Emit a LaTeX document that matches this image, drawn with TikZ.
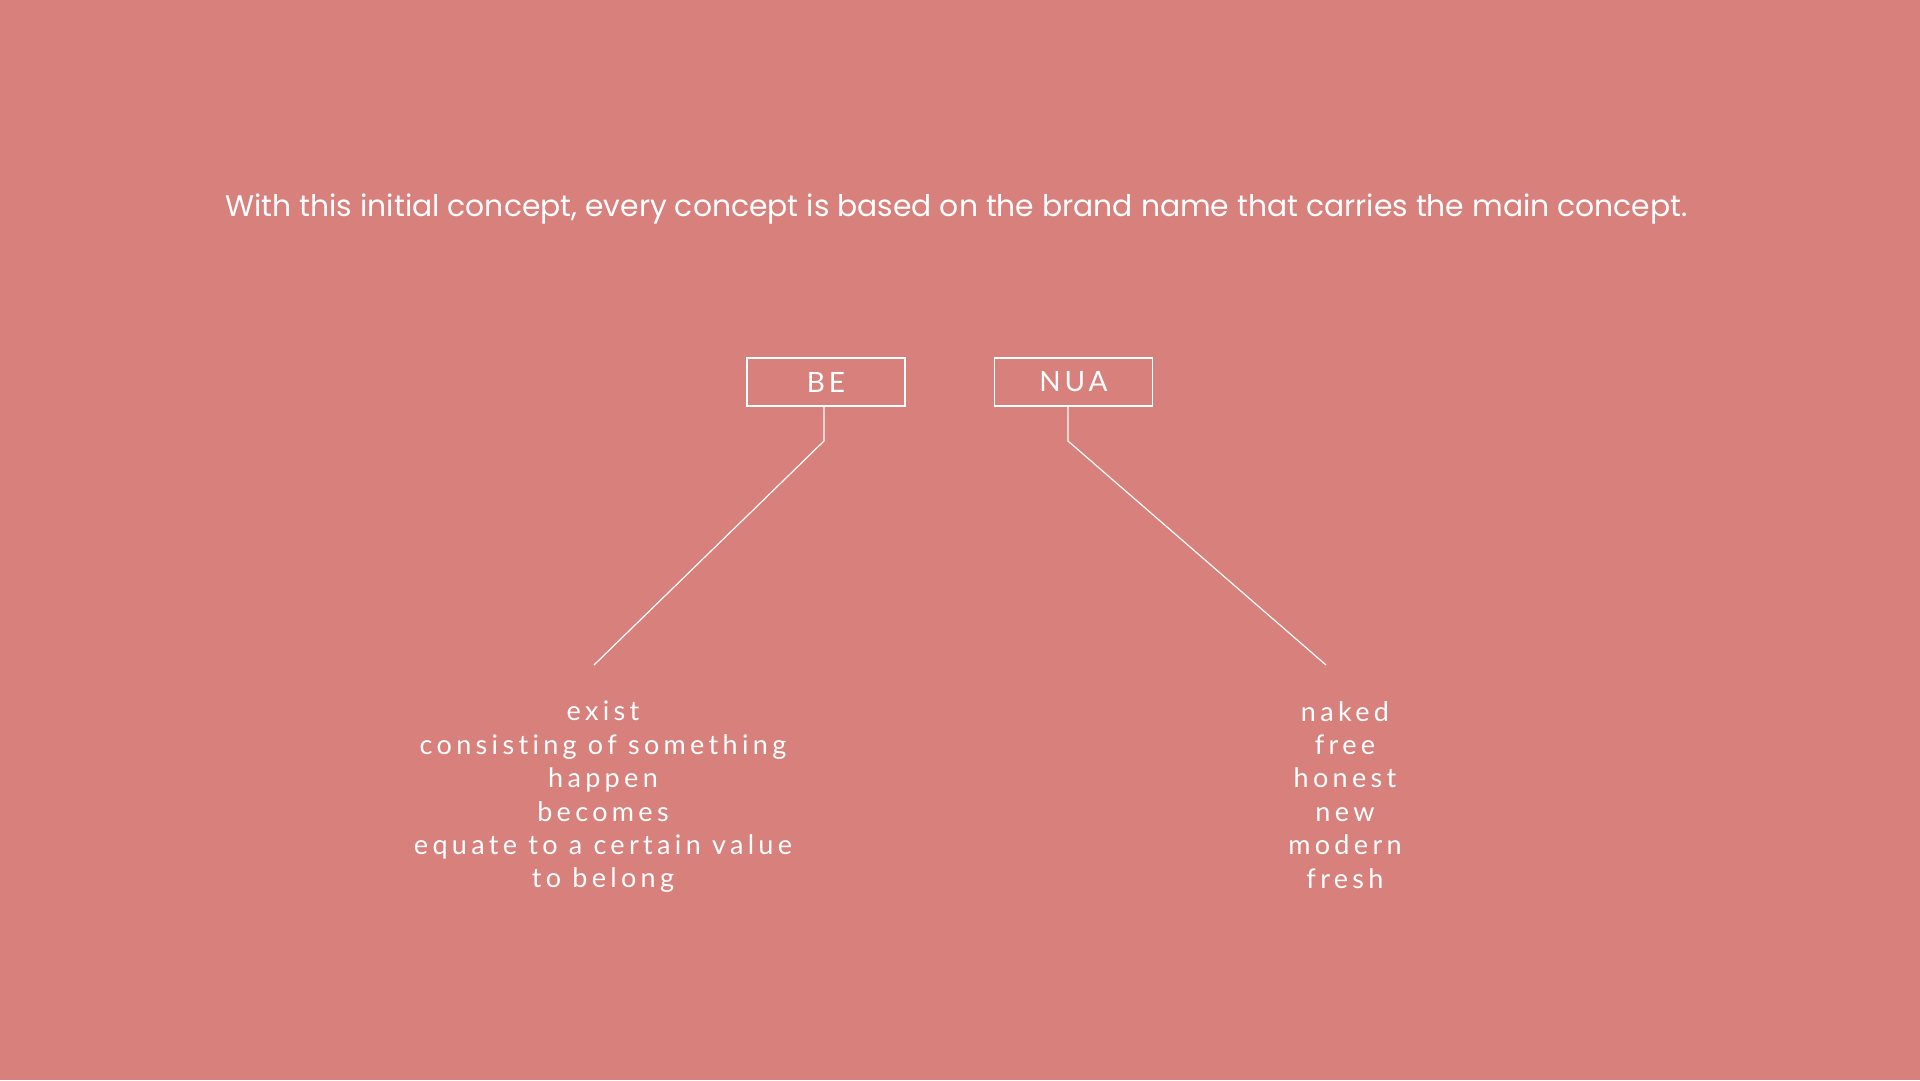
\documentclass[tikz,border=0pt]{standalone}
\usepackage{fontspec}
\setmainfont{Poppins}
\newfontfamily\wordfont[LetterSpace=16,Ligatures={NoCommon,NoRare}]{Lato}
\newfontfamily\boxfont[LetterSpace=14,Ligatures={NoCommon,NoRare}]{Lato}
\definecolor{bgpink}{RGB}{216,128,124}
\begin{document}
\begin{tikzpicture}[x=1pt,y=-1pt,
  lbl/.style={draw=white,line width=1.2pt,minimum width=158pt,minimum height=48pt,inner sep=0pt,text=white,font=\boxfont\fontsize{28}{30}\selectfont},
  link/.style={draw=white,line width=1.2pt},
  words/.style={text=white,align=center,font=\wordfont\fontsize{27}{33.4}\selectfont,inner sep=0pt}]
\fill[bgpink] (0,0) rectangle (1920,1080);
\useasboundingbox (0,0) rectangle (1920,1080);
\node[text=white,font=\fontsize{29.8}{32}\selectfont,inner sep=0pt] (head) at (956.5,209.5) {With this initial concept, every concept is based on the brand name that carries the main concept.};
\node[lbl] (be) at (826,382) {BE};
\node[lbl] (nua) at (1073.5,382) {NUA};
\coordinate (bek) at (824,441);
\coordinate (beend) at (594,665);
\coordinate (nuak) at (1068,441);
\coordinate (nuaend) at (1326,665);
\draw[link] (be.south -| bek) -- (bek) -- (beend);
\draw[link] (nua.south -| nuak) -- (nuak) -- (nuaend);
\node[words,anchor=north] (bewords) at (603,701) {exist\\consisting of something\\happen\\becomes\\equate to a certain value\\to belong};
\node[words,anchor=north] (nuawords) at (1345,701) {naked\\free\\honest\\new\\modern\\fresh};
\end{tikzpicture}
\end{document}
